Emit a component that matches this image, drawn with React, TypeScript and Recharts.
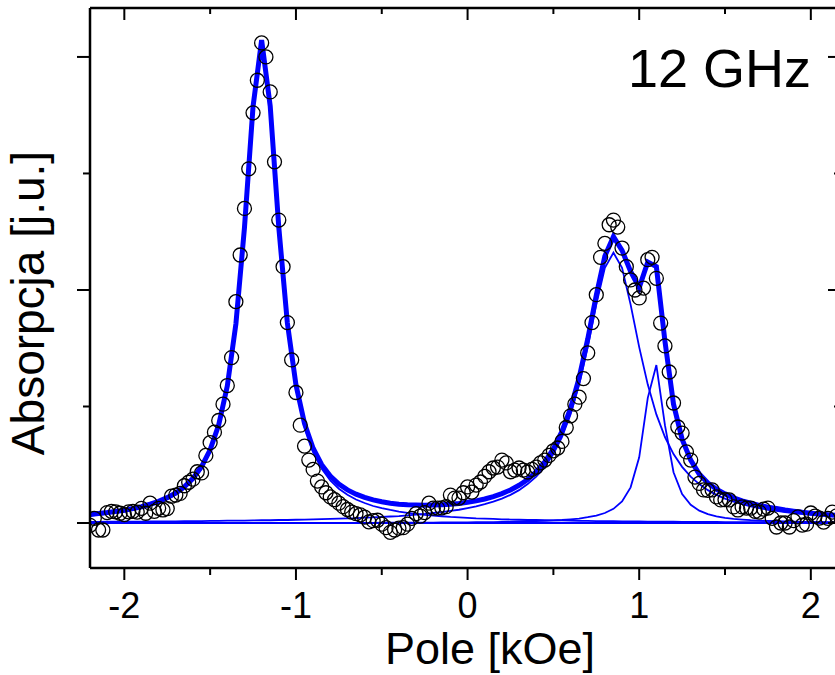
import { ComposedChart, Line, Scatter, XAxis, YAxis } from 'recharts'

// measured points (field in kOe, absorption in arb. units)
const measuredField = [
  -2.2, -2.175, -2.15, -2.125, -2.1, -2.075, -2.05, -2.025,
  -2.0, -1.975, -1.95, -1.925, -1.9, -1.875, -1.85, -1.825,
  -1.8, -1.775, -1.75, -1.725, -1.7, -1.675, -1.65, -1.625,
  -1.6, -1.575, -1.55, -1.525, -1.5, -1.475, -1.45, -1.425,
  -1.4, -1.375, -1.35, -1.325, -1.3, -1.275, -1.25, -1.225,
  -1.2, -1.175, -1.15, -1.125, -1.1, -1.075, -1.05, -1.025,
  -1.0, -0.975, -0.95, -0.925, -0.9, -0.875, -0.85, -0.825,
  -0.8, -0.775, -0.75, -0.725, -0.7, -0.675, -0.65, -0.625,
  -0.6, -0.575, -0.55, -0.525, -0.5, -0.475, -0.45, -0.425,
  -0.4, -0.375, -0.35, -0.325, -0.3, -0.275, -0.25, -0.225,
  -0.2, -0.175, -0.15, -0.125, -0.1, -0.075, -0.05, -0.025,
  0.0, 0.025, 0.05, 0.075, 0.1, 0.125, 0.15, 0.175,
  0.2, 0.225, 0.25, 0.275, 0.3, 0.325, 0.35, 0.375,
  0.4, 0.425, 0.45, 0.475, 0.5, 0.525, 0.55, 0.575,
  0.6, 0.625, 0.65, 0.675, 0.7, 0.725, 0.75, 0.775,
  0.8, 0.825, 0.85, 0.875, 0.9, 0.925, 0.95, 0.975,
  1.0, 1.025, 1.05, 1.075, 1.1, 1.125, 1.15, 1.175,
  1.2, 1.225, 1.25, 1.275, 1.3, 1.325, 1.35, 1.375,
  1.4, 1.425, 1.45, 1.475, 1.5, 1.525, 1.55, 1.575,
  1.6, 1.625, 1.65, 1.675, 1.7, 1.725, 1.75, 1.775,
  1.8, 1.825, 1.85, 1.875, 1.9, 1.925, 1.95, 1.975,
  2.0, 2.025, 2.05, 2.075, 2.1, 2.125, 2.15,
]
const measuredAbs = [
  -0.01, 0.02, -0.03, -0.03, 0.045, 0.05, 0.048, 0.042,
  0.036, 0.048, 0.05, 0.047, 0.063, 0.042, 0.085, 0.05,
  0.063, 0.056, 0.062, 0.115, 0.12, 0.127, 0.16, 0.175,
  0.188, 0.22, 0.215, 0.29, 0.345, 0.39, 0.44, 0.51,
  0.59, 0.71, 0.95, 1.15, 1.35, 1.52, 1.76, 1.9,
  2.06, 2.0, 1.85, 1.55, 1.3, 1.1, 0.86, 0.7,
  0.56, 0.42, 0.33, 0.27, 0.23, 0.18, 0.155, 0.13,
  0.112, 0.1, 0.085, 0.07, 0.058, 0.047, 0.04, 0.035,
  0.025, 0.005, 0.01, 0.012, -0.005, -0.02, -0.04, -0.03,
  -0.022, -0.02, -0.005, 0.02, 0.04, 0.03, 0.045, 0.085,
  0.064, 0.064, 0.065, 0.07, 0.12, 0.107, 0.107, 0.13,
  0.155, 0.133, 0.163, 0.176, 0.2, 0.22, 0.236, 0.24,
  0.27, 0.258, 0.22, 0.227, 0.236, 0.227, 0.219, 0.23,
  0.24, 0.258, 0.27, 0.29, 0.31, 0.322, 0.35, 0.41,
  0.46, 0.51, 0.54, 0.62, 0.73, 0.86, 0.98, 1.14,
  1.2, 1.28, 1.3, 1.27, 1.18, 1.1, 1.043, 1.0,
  0.966, 1.008, 1.13, 1.14, 1.05, 0.858, 0.76, 0.648,
  0.515, 0.412, 0.386, 0.305, 0.27, 0.197, 0.17, 0.142,
  0.14, 0.142, 0.112, 0.099, 0.1, 0.099, 0.069, 0.056,
  0.069, 0.064, 0.064, 0.05, 0.047, 0.06, 0.064, 0.02,
  -0.017, 0, 0, -0.017, 0.01, 0.026, -0.009, -0.005,
  0.043, 0.03, 0.021, 0.004, 0.02, 0.047, 0.03,
]

// fitted curves, sampled every 0.05 kOe
const fitField = [
  -2.2, -2.15, -2.1, -2.05, -2.0, -1.95, -1.9, -1.85,
  -1.8, -1.75, -1.7, -1.65, -1.6, -1.55, -1.5, -1.45,
  -1.4, -1.35, -1.3, -1.25, -1.2, -1.15, -1.1, -1.05,
  -1.0, -0.95, -0.9, -0.85, -0.8, -0.75, -0.7, -0.65,
  -0.6, -0.55, -0.5, -0.45, -0.4, -0.35, -0.3, -0.25,
  -0.2, -0.15, -0.1, -0.05, 0.0, 0.05, 0.1, 0.15,
  0.2, 0.25, 0.3, 0.35, 0.4, 0.45, 0.5, 0.55,
  0.6, 0.65, 0.7, 0.75, 0.8, 0.85, 0.9, 0.95,
  1.0, 1.05, 1.1, 1.15, 1.2, 1.25, 1.3, 1.35,
  1.4, 1.45, 1.5, 1.55, 1.6, 1.65, 1.7, 1.75,
  1.8, 1.85, 1.9, 1.95, 2.0, 2.05, 2.1, 2.15,
]
const fitTotal = [
  0.037, 0.041, 0.045, 0.05, 0.055, 0.062, 0.07, 0.081,
  0.093, 0.109, 0.129, 0.156, 0.192, 0.242, 0.314, 0.421,
  0.588, 0.854, 1.267, 1.787, 2.072, 1.789, 1.269, 0.858,
  0.593, 0.427, 0.321, 0.25, 0.202, 0.167, 0.142, 0.124,
  0.11, 0.099, 0.091, 0.085, 0.081, 0.078, 0.077, 0.076,
  0.077, 0.078, 0.081, 0.084, 0.089, 0.095, 0.103, 0.113,
  0.126, 0.142, 0.162, 0.187, 0.22, 0.262, 0.318, 0.393,
  0.492, 0.623, 0.789, 0.977, 1.146, 1.229, 1.17, 1.08,
  1.01, 1.12, 1.1, 0.78, 0.51, 0.36, 0.27, 0.21,
  0.172, 0.145, 0.125, 0.108, 0.095, 0.085, 0.076, 0.068,
  0.062, 0.056, 0.051, 0.046, 0.042, 0.039, 0.036, 0.033,
]
const fitPeak1 = [
  0.032, 0.035, 0.039, 0.044, 0.049, 0.056, 0.064, 0.073,
  0.086, 0.101, 0.121, 0.147, 0.183, 0.233, 0.304, 0.412,
  0.578, 0.844, 1.256, 1.776, 2.06, 1.776, 1.256, 0.844,
  0.578, 0.412, 0.304, 0.233, 0.183, 0.147, 0.121, 0.101,
  0.086, 0.073, 0.064, 0.056, 0.049, 0.044, 0.039, 0.035,
  0.032, 0.029, 0.026, 0.024, 0.022, 0.02, 0.019, 0.018,
  0.016, 0.015, 0.014, 0.013, 0.013, 0.012, 0.011, 0.011,
  0.01, 0.009, 0.009, 0.008, 0.008, 0.008, 0.007, 0.007,
  0.007, 0.006, 0.006, 0.006, 0.006, 0.005, 0.005, 0.005,
  0.005, 0.005, 0.004, 0.004, 0.004, 0.004, 0.004, 0.004,
  0.004, 0.004, 0.003, 0.003, 0.003, 0.003, 0.003, 0.003,
]
const fitPeak2 = [
  0.005, 0.005, 0.006, 0.006, 0.006, 0.006, 0.006, 0.007,
  0.007, 0.007, 0.007, 0.008, 0.008, 0.008, 0.009, 0.009,
  0.01, 0.01, 0.01, 0.011, 0.012, 0.012, 0.013, 0.013,
  0.014, 0.015, 0.016, 0.017, 0.018, 0.019, 0.02, 0.021,
  0.023, 0.024, 0.026, 0.028, 0.03, 0.033, 0.036, 0.039,
  0.043, 0.047, 0.052, 0.057, 0.064, 0.071, 0.081, 0.092,
  0.105, 0.121, 0.141, 0.167, 0.199, 0.241, 0.296, 0.369,
  0.466, 0.594, 0.755, 0.937, 1.095, 1.16, 1.095, 0.937,
  0.755, 0.594, 0.466, 0.369, 0.296, 0.241, 0.199, 0.167,
  0.141, 0.121, 0.105, 0.092, 0.081, 0.071, 0.064, 0.057,
  0.052, 0.047, 0.043, 0.039, 0.036, 0.033, 0.03, 0.028,
]
const fitPeak3 = [
  0, 0, 0, 0, 0, 0, 0, 0,
  0, 0, 0.001, 0.001, 0.001, 0.001, 0.001, 0.001,
  0.001, 0.001, 0.001, 0.001, 0.001, 0.001, 0.001, 0.001,
  0.001, 0.001, 0.001, 0.001, 0.001, 0.001, 0.001, 0.001,
  0.001, 0.001, 0.002, 0.002, 0.002, 0.002, 0.002, 0.002,
  0.002, 0.003, 0.003, 0.003, 0.003, 0.004, 0.004, 0.004,
  0.005, 0.005, 0.006, 0.007, 0.008, 0.009, 0.011, 0.013,
  0.016, 0.019, 0.025, 0.032, 0.043, 0.061, 0.093, 0.153,
  0.282, 0.537, 0.678, 0.42, 0.218, 0.124, 0.078, 0.053,
  0.038, 0.029, 0.022, 0.018, 0.015, 0.012, 0.01, 0.009,
  0.008, 0.007, 0.006, 0.005, 0.005, 0.004, 0.004, 0.003,
]
const baseField = [-2.2, 2.17]
const baseAbs = [0, 0]

const xTicks = [-2, -1.5, -1, -0.5, 0, 0.5, 1, 1.5, 2]
const yTicks = [0, 0.5, 1, 1.5, 2]

const FONT = '"Liberation Sans", Arial, sans-serif'

const toPoints = (xs: number[], ys: number[]) => xs.map((x, i) => ({ x, y: ys[i] }))

const measured = toPoints(measuredField, measuredAbs)
const total = toPoints(fitField, fitTotal)
const peak1 = toPoints(fitField, fitPeak1)
const peak2 = toPoints(fitField, fitPeak2)
const peak3 = toPoints(fitField, fitPeak3)
const base = toPoints(baseField, baseAbs)

const BottomTick = (props: any) => {
  const { x, y, payload } = props
  const major = Number.isInteger(payload.value)
  return (
    <g>
      <line x1={x} y1={y} x2={x} y2={y + (major ? 12 : 7)} stroke="#000" strokeWidth={2} />
      {major && (
        <text x={x} y={y + 50} textAnchor="middle" fontSize={36} fontFamily={FONT} fill="#000">
          {payload.value}
        </text>
      )}
    </g>
  )
}

const TopTick = (props: any) => {
  const { x, y, payload } = props
  const major = Number.isInteger(payload.value)
  return <line x1={x} y1={y} x2={x} y2={y + (major ? 12 : 6)} stroke="#000" strokeWidth={2} />
}

const LeftTick = (props: any) => {
  const { x, y, payload } = props
  const major = Number.isInteger(payload.value)
  return <line x1={x} y1={y} x2={x - (major ? 13 : 7)} y2={y} stroke="#000" strokeWidth={2} />
}

const RightTick = (props: any) => {
  const { x, y, payload } = props
  const major = Number.isInteger(payload.value)
  return <line x1={x} y1={y} x2={x - (major ? 12 : 6)} y2={y} stroke="#000" strokeWidth={2} />
}

const Circle = (p: any) => (
  <circle cx={p.cx} cy={p.cy} r={7} fill="none" stroke="#000" strokeWidth={1.3} />
)

const axisLine = { stroke: '#000', strokeWidth: 2.5 }
const xDomain = [-2.2, 2.17]
const yDomain = [-0.193, 2.21]

export default function App() {
  return (
    <div style={{ position: 'fixed', left: 0, top: 0, width: 835, height: 675, overflow: 'hidden', background: '#fff' }}>
      <ComposedChart width={850} height={675} margin={{ top: 7, right: 9, bottom: 106, left: 89 }}>
        <XAxis
          type="number"
          dataKey="x"
          domain={xDomain}
          allowDataOverflow
          ticks={xTicks}
          interval={0}
          height={1}
          tickSize={0}
          tickMargin={0}
          tickLine={false}
          axisLine={axisLine}
          tick={<BottomTick />}
        />
        <XAxis
          xAxisId="top"
          orientation="top"
          type="number"
          dataKey="x"
          domain={xDomain}
          allowDataOverflow
          ticks={xTicks}
          interval={0}
          height={1}
          tickSize={0}
          tickMargin={0}
          tickLine={false}
          axisLine={axisLine}
          tick={<TopTick />}
        />
        <YAxis
          type="number"
          dataKey="y"
          domain={yDomain}
          allowDataOverflow
          ticks={yTicks}
          interval={0}
          width={1}
          tickSize={0}
          tickMargin={0}
          tickLine={false}
          axisLine={axisLine}
          tick={<LeftTick />}
        />
        <YAxis
          yAxisId="right"
          orientation="right"
          type="number"
          domain={yDomain}
          allowDataOverflow
          ticks={yTicks}
          interval={0}
          width={1}
          tickSize={0}
          tickMargin={0}
          tickLine={false}
          axisLine={axisLine}
          tick={<RightTick />}
        />
        <Scatter data={measured} dataKey="y" shape={Circle} isAnimationActive={false} />
        <Line data={base} dataKey="y" stroke="#0000ff" strokeWidth={1.8} dot={false} isAnimationActive={false} />
        <Line data={peak1} dataKey="y" stroke="#0000ff" strokeWidth={1.8} dot={false} isAnimationActive={false} />
        <Line data={peak2} dataKey="y" stroke="#0000ff" strokeWidth={1.8} dot={false} isAnimationActive={false} />
        <Line data={peak3} dataKey="y" stroke="#0000ff" strokeWidth={1.8} dot={false} isAnimationActive={false} />
        <Line data={total} dataKey="y" stroke="#0000ff" strokeWidth={5} dot={false} isAnimationActive={false} />
      </ComposedChart>
      <svg width={835} height={675} style={{ position: 'absolute', left: 0, top: 0, pointerEvents: 'none' }}>
        <text x={628} y={87} fontSize={54} fontFamily={FONT} fill="#000">12 GHz</text>
        <text x={490} y={664} textAnchor="middle" fontSize={45} fontFamily={FONT} fill="#000">Pole [kOe]</text>
        <text
          transform="translate(44,303) rotate(-90)"
          textAnchor="middle"
          fontSize={46}
          fontFamily={FONT}
          fill="#000"
        >
          Absorpcja [j.u.]
        </text>
      </svg>
    </div>
  )
}
